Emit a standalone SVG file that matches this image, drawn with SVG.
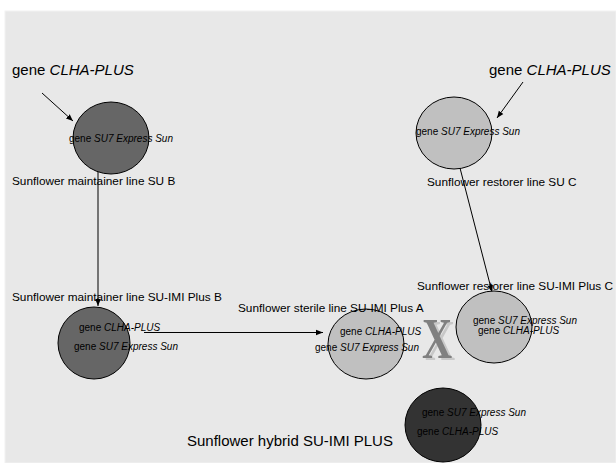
<svg xmlns="http://www.w3.org/2000/svg" width="616" height="463" viewBox="0 0 616 463">
<style>
text{font-family:"Liberation Sans",Arial,sans-serif;fill:#000}
.big{font-size:15px}
.lbl{font-size:11.8px}
.sm{font-size:10px}
.it{font-style:italic}
.c{stroke:#000;stroke-width:1}
.dk{fill:#666}
.lt{fill:#c0c0c0}
.dd{fill:#333}
.ln{stroke:#000;stroke-width:1;fill:none;marker-end:url(#ah)}
</style>
<defs>
<marker id="ah" viewBox="0 0 10 10" refX="10" refY="5" markerWidth="7" markerHeight="7" orient="auto" markerUnits="userSpaceOnUse">
<path d="M0,1 L10,5 L0,9 z" fill="#000"/>
</marker>
</defs>
<rect x="0" y="0" width="616" height="463" fill="#fff"/>
<rect x="5" y="11" width="611" height="452" fill="#e8e8e8" stroke="#f2f2f2" stroke-width="1"/>

<g id="connectors">
<line class="ln" x1="42" y1="93" x2="73" y2="121"/>
<line class="ln" x1="523" y1="82" x2="497" y2="118"/>
<line class="ln" x1="98" y1="172" x2="98" y2="306"/>
<line class="ln" x1="144" y1="332.5" x2="323" y2="332.5"/>
<line class="ln" x1="460" y1="168" x2="492" y2="292"/>
</g>

<g id="label-clha-left"><text class="big" x="12" y="75">gene <tspan class="it">CLHA-PLUS</tspan></text></g>
<g id="label-clha-right"><text class="big" x="489" y="75">gene <tspan class="it">CLHA-PLUS</tspan></text></g>

<g id="node-su-b">
<ellipse class="c dk" cx="111" cy="138" rx="38" ry="36"/>
<text class="sm" x="69" y="142">gene <tspan class="it">SU7 Express Sun</tspan></text>
<text class="lbl" x="12" y="185">Sunflower maintainer line SU B</text>
</g>

<g id="node-su-c">
<ellipse class="c lt" cx="454" cy="133" rx="38" ry="36"/>
<text class="sm" x="416" y="135">gene <tspan class="it">SU7 Express Sun</tspan></text>
<text class="lbl" x="427" y="186">Sunflower restorer line SU C</text>
</g>

<g id="node-su-imi-b">
<text class="lbl" x="12" y="301">Sunflower maintainer line SU-IMI Plus B</text>
<ellipse class="c dk" cx="94" cy="343" rx="36" ry="36"/>
<text class="sm" x="79" y="331">gene <tspan class="it">CLHA-PLUS</tspan></text>
<text class="sm" x="74" y="350">gene <tspan class="it">SU7 Express Sun</tspan></text>
</g>

<g id="node-su-imi-a">
<ellipse class="c lt" cx="366" cy="344" rx="38" ry="35"/>
<text class="lbl" x="238" y="312">Sunflower sterile line SU-IMI Plus A</text>
<text class="sm" x="340" y="335">gene <tspan class="it">CLHA-PLUS</tspan></text>
<text class="sm" x="315" y="351">gene <tspan class="it">SU7 Express Sun</tspan></text>
</g>

<g id="cross">
<text x="0" y="0" transform="translate(425,360) scale(0.72,1)" style="font-family:'Liberation Serif','Times New Roman',serif;font-weight:bold;font-size:58px;fill:#c8c8c8">X</text>
<text x="0" y="0" transform="translate(422,358) scale(0.72,1)" style="font-family:'Liberation Serif','Times New Roman',serif;font-weight:bold;font-size:58px;fill:#808080">X</text>
</g>

<g id="node-su-imi-c">
<text class="lbl" x="417" y="290">Sunflower restorer line SU-IMI Plus C</text>
<ellipse class="c lt" cx="494" cy="327" rx="38" ry="36"/>
<text class="sm" x="473" y="324">gene <tspan class="it">SU7 Express Sun</tspan></text>
<text class="sm" x="478" y="334">gene <tspan class="it">CLHA-PLUS</tspan></text>
</g>

<g id="node-hybrid">
<ellipse class="c dd" cx="443" cy="425" rx="38" ry="37"/>
<text class="sm" x="422" y="416">gene <tspan class="it">SU7 Express Sun</tspan></text>
<text class="sm" x="417" y="435">gene <tspan class="it">CLHA-PLUS</tspan></text>
<text class="big" x="187" y="446">Sunflower hybrid SU-IMI PLUS</text>
</g>
</svg>
